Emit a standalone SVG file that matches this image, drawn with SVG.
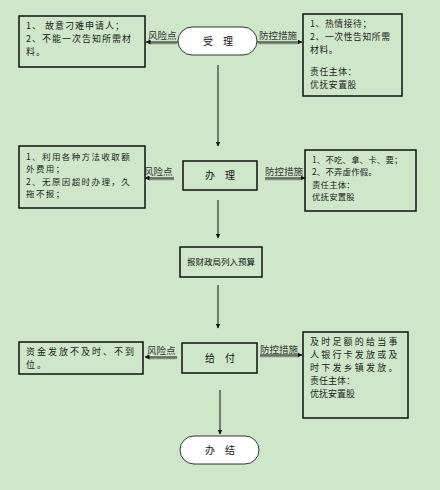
<svg xmlns="http://www.w3.org/2000/svg" width="440" height="490" viewBox="0 0 440 490">
<defs>
<marker id="ah" viewBox="0 0 10 10" refX="9" refY="5" markerWidth="5" markerHeight="5" orient="auto" markerUnits="userSpaceOnUse"><path d="M0,0 L10,5 L0,10 z" fill="#111"/></marker>
</defs>
<style>
.bg{fill:#CFE7C9}
.box{fill:none;stroke:#111;stroke-width:1.5}
.term{fill:#fff;stroke:#333;stroke-width:1}
.t{font-family:"Noto Sans CJK SC","Noto Sans",sans-serif;fill:#222}
.c{font-family:"Noto Sans CJK SC","Noto Sans",sans-serif;font-size:10px;fill:#111;text-anchor:middle}
.lbl{font-family:"Noto Sans CJK SC","Noto Sans",sans-serif;font-size:9.5px;fill:#333}
.ln{stroke:#111;stroke-width:1;fill:none}
.sh{stroke:#888;stroke-width:1.5;fill:none}
</style>
<rect class="bg" x="0" y="0" width="440" height="490"/>

<g id="connectors">
<line class="sh" x1="177" y1="43.5" x2="149" y2="43.5"/>
<line class="ln" x1="178" y1="42" x2="146" y2="42" marker-end="url(#ah)"/>
<line class="sh" x1="258" y1="43.5" x2="298" y2="43.5"/>
<line class="ln" x1="257" y1="42" x2="302" y2="42" marker-end="url(#ah)"/>
<line class="ln" x1="218" y1="65" x2="218" y2="146" marker-end="url(#ah)"/>

<line class="sh" x1="174" y1="179.5" x2="149" y2="179.5"/>
<line class="ln" x1="174" y1="178" x2="145" y2="178" marker-end="url(#ah)"/>
<line class="sh" x1="265" y1="179.5" x2="301" y2="179.5"/>
<line class="ln" x1="265" y1="178" x2="305" y2="178" marker-end="url(#ah)"/>
<line class="ln" x1="218" y1="200" x2="218" y2="238" marker-end="url(#ah)"/>

<line class="ln" x1="218" y1="285" x2="218" y2="328" marker-end="url(#ah)"/>

<line class="sh" x1="177" y1="358.5" x2="149" y2="358.5"/>
<line class="ln" x1="177" y1="357" x2="145" y2="357" marker-end="url(#ah)"/>
<line class="sh" x1="260" y1="356.5" x2="298" y2="356.5"/>
<line class="ln" x1="260" y1="355" x2="302" y2="355" marker-end="url(#ah)"/>
<line class="ln" x1="220" y1="390" x2="220" y2="434" marker-end="url(#ah)"/>

<text class="lbl" x="148" y="39">风险点</text>
<text class="lbl" x="259" y="39">防控措施</text>
<text class="lbl" x="144" y="175">风险点</text>
<text class="lbl" x="265" y="175">防控措施</text>
<text class="lbl" x="147" y="354">风险点</text>
<text class="lbl" x="260" y="353">防控措施</text>
</g>

<g id="n-shouli">
<rect class="term" x="178" y="27" width="79" height="28" rx="14" ry="14"/>
<text class="c" x="218" y="45">受　理</text>
</g>
<g id="n-risk1">
<rect class="box" x="19" y="16" width="126" height="51"/>
<text class="t" style="font-size:9px;letter-spacing:1px"><tspan x="26" y="28.5">1、  故意刁难申请人；</tspan><tspan x="26" y="41.8">2、不能一次告知所需材</tspan><tspan x="26" y="55.1">料。</tspan></text>
</g>
<g id="n-ctrl1">
<rect class="box" x="303" y="14" width="99" height="82"/>
<text class="t" style="font-size:8.8px;letter-spacing:0.6px"><tspan x="310" y="27">1、热情接待；</tspan><tspan x="310" y="40">2、一次性告知所需</tspan><tspan x="310" y="53">材料。</tspan><tspan x="310" y="75">责任主体：</tspan><tspan x="310" y="88">优抚安置股</tspan></text>
</g>

<g id="n-banli">
<rect class="box" x="183" y="161" width="74" height="29"/>
<text class="c" x="220" y="179">办　理</text>
</g>
<g id="n-risk2">
<rect class="box" x="19" y="146" width="126" height="62"/>
<text class="t" style="font-size:8.5px;letter-spacing:1.4px"><tspan x="26" y="159.5">1、利用各种方法收取额</tspan><tspan x="26" y="172">外费用；</tspan><tspan x="26" y="184.5">2、无原因超时办理，久</tspan><tspan x="26" y="197">拖不报；</tspan></text>
</g>
<g id="n-ctrl2">
<rect class="box" x="305" y="150" width="111" height="61"/>
<text class="t" style="font-size:8.4px;letter-spacing:0.2px"><tspan x="312" y="163">1、不吃、拿、卡、要；</tspan><tspan x="312" y="175.3">2、不弄虚作假。</tspan><tspan x="312" y="187.6">责任主体：</tspan><tspan x="312" y="199.9">优抚安置股</tspan></text>
</g>

<g id="n-budget">
<rect class="box" x="180" y="247" width="82" height="30"/>
<text class="c" x="221" y="265" style="font-size:8.5px">报财政局列入预算</text>
</g>

<g id="n-geifu">
<rect class="box" x="182" y="343" width="75" height="30"/>
<text class="c" x="220" y="362">给　付</text>
</g>
<g id="n-risk3">
<rect class="box" x="19" y="342" width="124" height="32"/>
<text class="t" style="font-size:9px;letter-spacing:2px"><tspan x="26" y="355">资金发放不及时、不到</tspan><tspan x="26" y="368.2">位。</tspan></text>
</g>
<g id="n-ctrl3">
<rect class="box" x="303" y="332" width="105" height="86"/>
<text class="t" style="font-size:9px"><tspan x="310" y="345" style="letter-spacing:2.2px">及时足额的给当事</tspan><tspan x="310" y="358.1" style="letter-spacing:2.2px">人银行卡发放或及</tspan><tspan x="310" y="371.2" style="letter-spacing:2.2px">时下发乡镇发放。</tspan><tspan x="310" y="384.3">责任主体：</tspan><tspan x="310" y="397.4">优抚安置股</tspan></text>
</g>

<g id="n-banjie">
<rect class="term" x="180" y="436" width="79" height="28" rx="14" ry="14"/>
<text class="c" x="220" y="454">办　结</text>
</g>
</svg>
